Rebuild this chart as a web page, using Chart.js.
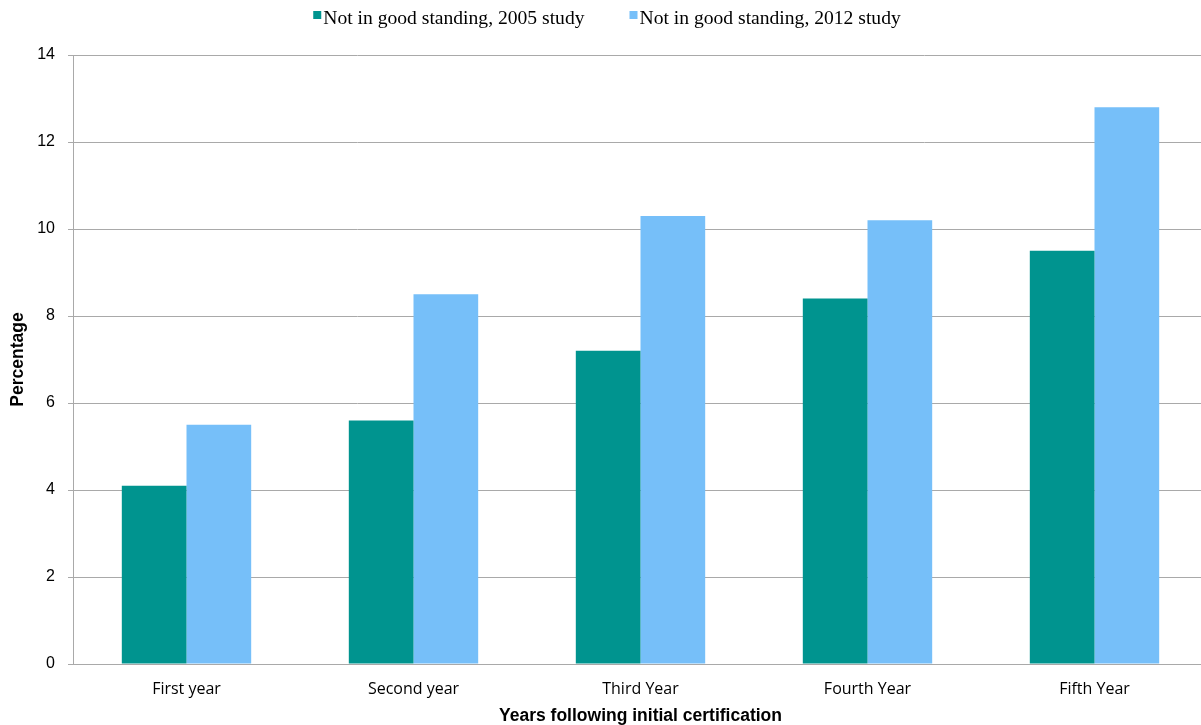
<!DOCTYPE html>
<html>
<head>
<meta charset="utf-8">
<script src="https://cdn.jsdelivr.net/npm/chart.js@4"></script>
<style>
  html, body { margin: 0; padding: 0; background: #fff; overflow: hidden; }
  #wrap { position: absolute; left: 0; top: 0; width: 1210px; height: 725px; }
</style>
</head>
<body>
<div id="wrap"><canvas id="c"></canvas></div>
<script>
const categories = ["First year", "Second year", "Third Year", "Fourth Year", "Fifth Year"];
const series2005 = [4.1, 5.6, 7.2, 8.4, 9.5];
const series2012 = [5.5, 8.5, 10.3, 10.2, 12.8];
const seriesNames = ["Not in good standing, 2005 study", "Not in good standing, 2012 study"];
const yTicks = [0, 2, 4, 6, 8, 10, 12, 14];

const TEAL = "#00948f";
const BLUE = "#76bff9";
const GRID = "#a9a9a9";

const legendPlugin = {
  id: "topLegend",
  afterDraw(chart) {
    const ctx = chart.ctx;
    ctx.save();
    ctx.font = "19.6px 'Liberation Serif', 'Times New Roman', serif";
    ctx.textBaseline = "middle";
    ctx.fillStyle = "#000";
    const box = 8, gapBox = 2, gapItem = 45;
    const widths = chart.data.datasets.map(d => box + gapBox + ctx.measureText(d.label).width);
    const total = widths.reduce((a, b) => a + b, 0) + gapItem * (widths.length - 1);
    let x = 607 - total / 2;
    const y = 19;
    chart.data.datasets.forEach((d, i) => {
      ctx.fillStyle = d.backgroundColor;
      ctx.fillRect(x, y - 8, box, box);
      ctx.fillStyle = "#000";
      ctx.textAlign = "left";
      ctx.fillText(d.label, x + box + gapBox, y);
      x += widths[i] + gapItem;
    });
    ctx.restore();
  }
};

new Chart(document.getElementById("c"), {
  type: "bar",
  data: {
    labels: categories,
    datasets: [
      { label: seriesNames[0], data: series2005, backgroundColor: TEAL, borderWidth: 0 },
      { label: seriesNames[1], data: series2012, backgroundColor: BLUE, borderWidth: 0 }
    ]
  },
  options: {
    responsive: true,
    maintainAspectRatio: false,
    animation: false,
    events: [],
    layout: { padding: { top: 55, right: 2, bottom: 0, left: 0 } },
    plugins: { legend: { display: false }, tooltip: { enabled: false } },
    datasets: { bar: { barPercentage: 1.0, categoryPercentage: 0.57 } },
    scales: {
      x: {
        grid: { display: false },
        border: { display: true, color: GRID, width: 1 },
        ticks: { color: "#000", font: { family: "'Open Sans', 'Noto Sans', sans-serif", size: 16 }, padding: 8, maxRotation: 0 },
        title: { display: true, text: "Years following initial certification", color: "#000",
                 font: { family: "'Liberation Sans', Arial, sans-serif", size: 17.5, weight: "bold", lineHeight: 1.0 }, padding: { top: 4, bottom: 0 } },
        afterFit(s) { s.height = 61; }
      },
      y: {
        min: 0, max: 14,
        afterBuildTicks(s) { s.ticks = yTicks.map(v => ({ value: v })); },
        grid: { color: GRID, lineWidth: 1, drawTicks: true, tickLength: 5, tickColor: GRID },
        border: { display: true, color: GRID, width: 1 },
        ticks: { color: "#000", font: { family: "'Liberation Sans', Arial, sans-serif", size: 16 }, padding: 13 },
        title: { display: true, text: "Percentage", color: "#000",
                 font: { family: "'Liberation Sans', Arial, sans-serif", size: 17.5, weight: "bold" }, padding: { top: 8, bottom: 0 } },
        afterFit(s) { s.width = 73; }
      }
    }
  },
  plugins: [legendPlugin]
});
</script>
</body>
</html>
